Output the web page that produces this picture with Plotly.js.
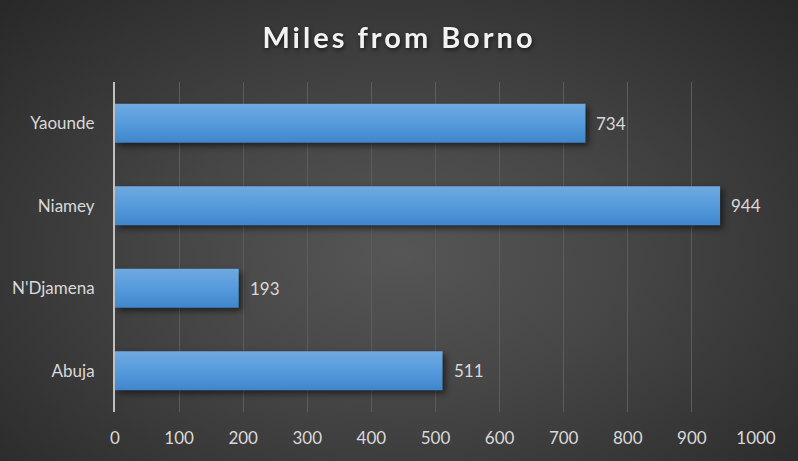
<!DOCTYPE html>
<html><head><meta charset="utf-8">
<script src="https://cdn.plot.ly/plotly-3.0.1.min.js"></script>
<style>
html,body{margin:0;padding:0;}
#chart{width:798px;height:461px;background:radial-gradient(ellipse at 50% 55%, #565656 0%, #464646 40%, #282828 100%);}
#chart .gtitle{letter-spacing:3px; filter: drop-shadow(1px 2px 2px rgba(0,0,0,0.6));}
#chart .bars path{fill:url(#barGrad) !important; filter: drop-shadow(3px 3px 3px rgba(0,0,0,0.55));}
</style></head>
<body>
<svg width="0" height="0" style="position:absolute">
  <defs>
    <linearGradient id="barGrad" x1="0" y1="0" x2="0" y2="1">
      <stop offset="0%" stop-color="#6fa9e0"/>
      <stop offset="50%" stop-color="#559bdc"/>
      <stop offset="100%" stop-color="#3f86cc"/>
    </linearGradient>
  </defs>
</svg>
<div id="chart"></div>
<script>
const categories = ["Abuja", "N'Djamena", "Niamey", "Yaounde"];
const miles = [511, 193, 944, 734];
const tickVals = [0,100,200,300,400,500,600,700,800,900,1000];

const FONT = 'Lato, "Open Sans", sans-serif';
const trace = {
  type: 'bar', orientation: 'h',
  y: categories, x: miles,
  width: 0.47,
  marker: {color: '#529ad9', line: {width: 0}},
  hoverinfo: 'none'
};
const annotations = categories.map((c, i) => ({
  x: miles[i], y: c, xref: 'x', yref: 'y', text: String(miles[i]),
  showarrow: false, xanchor: 'left', yanchor: 'middle', xshift: 9,
  font: {family: FONT, size: 17, color: '#d9d9d9'}
}));
const layout = {
  width: 798, height: 461,
  paper_bgcolor: 'rgba(0,0,0,0)', plot_bgcolor: 'rgba(0,0,0,0)',
  margin: {l: 115, r: 42, t: 82, b: 49},
  title: {text: 'Miles from Borno', x: 0.5, xanchor: 'center', y: 0.918, yanchor: 'middle',
    font: {family: FONT, size: 29, color: '#f2f2f2', weight: 'bold'}},
  xaxis: {range: [0, 1000], tickvals: tickVals, ticktext: tickVals.map(String),
    showgrid: true, gridcolor: '#5c5c5c', gridwidth: 1, zeroline: false, showline: false,
    tickfont: {family: FONT, size: 17, color: '#d9d9d9'}, ticks: '', ticklabelstandoff: 14},
  yaxis: {showline: true, linecolor: '#bfbfbf', linewidth: 2, showgrid: false, zeroline: false,
    ticks: '', ticklabelstandoff: 15,
    tickfont: {family: FONT, size: 17, color: '#d9d9d9'}},
  annotations: annotations,
  showlegend: false
};
Plotly.newPlot('chart', [trace], layout, {displayModeBar: false, staticPlot: true});
</script></body></html>
